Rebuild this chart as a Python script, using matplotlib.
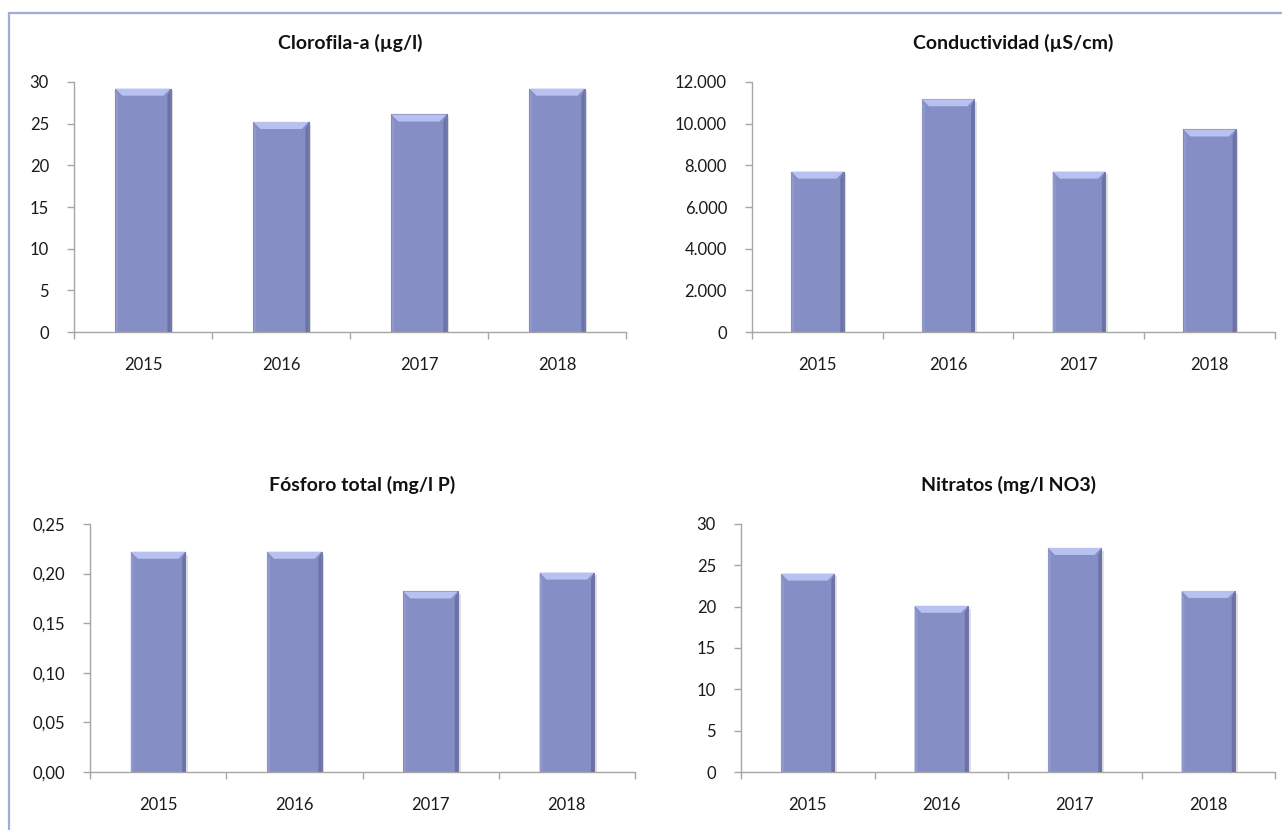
import matplotlib.pyplot as plt
from matplotlib.patches import Polygon, Rectangle
from matplotlib.ticker import FuncFormatter, FixedLocator

plt.rcParams['font.family'] = ['Lato', 'DejaVu Sans']

# data
years = ['2015', '2016', '2017', '2018']
clorofila = [29.2, 25.2, 26.1, 29.2]
conductividad = [7700, 11170, 7700, 9720]
fosforo = [0.222, 0.222, 0.182, 0.201]
nitratos = [24.0, 20.1, 27.1, 21.9]

W, H = 1282, 830
fig = plt.figure(figsize=(W / 100, H / 100), dpi=100)

# light blue frame round the whole chart area
fig.patches.append(Rectangle((9 / W, -0.05), 1.2, 1 - 13 / H + 0.05, transform=fig.transFigure,
                             fill=False, edgecolor='#A3ABDD', linewidth=1.6, zorder=0))

bar_color = '#868ec6'
width = 0.4
bevel = 7  # pixels


def fmt_int(v, pos):
    return '{:,.0f}'.format(v).replace(',', '.')


def fmt_dec(v, pos):
    return '{:.2f}'.format(v).replace('.', ',')


def draw_chart(box, title, values, ymax, step, formatter):
    l, t, r, b = box
    ax = fig.add_axes([l / W, 1 - b / H, (r - l) / W, (b - t) / H])
    x = range(len(values))
    ax.set_xlim(-0.5, len(values) - 0.5)
    ax.set_ylim(0, ymax)
    bx = bevel * len(values) / (r - l)
    by = bevel * ymax / (b - t)

    # soft shadow behind the bars
    ax.bar([i + 0.02 for i in x], values, width=width, bottom=-by * 0.4,
           color='#000000', alpha=0.12, zorder=1)
    bars = ax.bar(x, values, width=width, color=bar_color, edgecolor='#7278ac',
                  linewidth=0.8, zorder=2)
    for bar in bars:
        x0 = bar.get_x()
        x1 = x0 + bar.get_width()
        y = bar.get_height()
        # right darker edge
        ax.add_patch(Polygon([(x1, 0), (x1, y), (x1 - bx * 0.45, y - by), (x1 - bx * 0.45, 0)],
                             closed=True, facecolor='#6c72a6', edgecolor='none', zorder=3))
        # left slightly lighter edge
        ax.add_patch(Polygon([(x0, 0), (x0, y), (x0 + bx * 0.4, y - by), (x0 + bx * 0.4, 0)],
                             closed=True, facecolor='#9098cc', edgecolor='none', zorder=3))
        # top bevel highlight
        ax.add_patch(Polygon([(x0, y), (x1, y), (x1 - bx, y - by), (x0 + bx, y - by)],
                             closed=True, facecolor='#b9c1f1', edgecolor='none', zorder=4))

    for s in ['top', 'right']:
        ax.spines[s].set_visible(False)
    for s in ['left', 'bottom']:
        ax.spines[s].set_color('#a6a6a6')
        ax.spines[s].set_linewidth(1.0)

    yt = [i * step for i in range(int(round(ymax / step)) + 1)]
    ax.yaxis.set_major_locator(FixedLocator(yt))
    ax.yaxis.set_major_formatter(FuncFormatter(formatter))
    ax.tick_params(axis='y', direction='out', length=5, width=1, color='#a6a6a6',
                   pad=13, labelsize=12, labelcolor='#1a1a1a')

    ax.set_xticks(list(x))
    ax.set_xticklabels(years)
    ax.tick_params(axis='x', which='major', length=0, pad=18, labelsize=12, labelcolor='#1a1a1a')
    ax.xaxis.set_minor_locator(FixedLocator([i - 0.5 for i in range(len(values) + 1)]))
    ax.tick_params(axis='x', which='minor', direction='out', length=5, width=1, color='#a6a6a6')

    ax.set_title(title, fontsize=14, fontweight='bold', pad=24, color='#111111')
    return ax


draw_chart((74, 82, 626, 332), 'Clorofila-a (µg/l)', clorofila, 30, 5, fmt_int)
draw_chart((752, 82, 1275, 332), 'Conductividad (µS/cm)', conductividad, 12000, 2000, fmt_int)
draw_chart((90, 524, 635, 772), 'Fósforo total (mg/l P)', fosforo, 0.25, 0.05, fmt_dec)
draw_chart((741, 524, 1275, 772), 'Nitratos (mg/l NO3)', nitratos, 30, 5, fmt_int)

fig.savefig('out.png', dpi=100)
